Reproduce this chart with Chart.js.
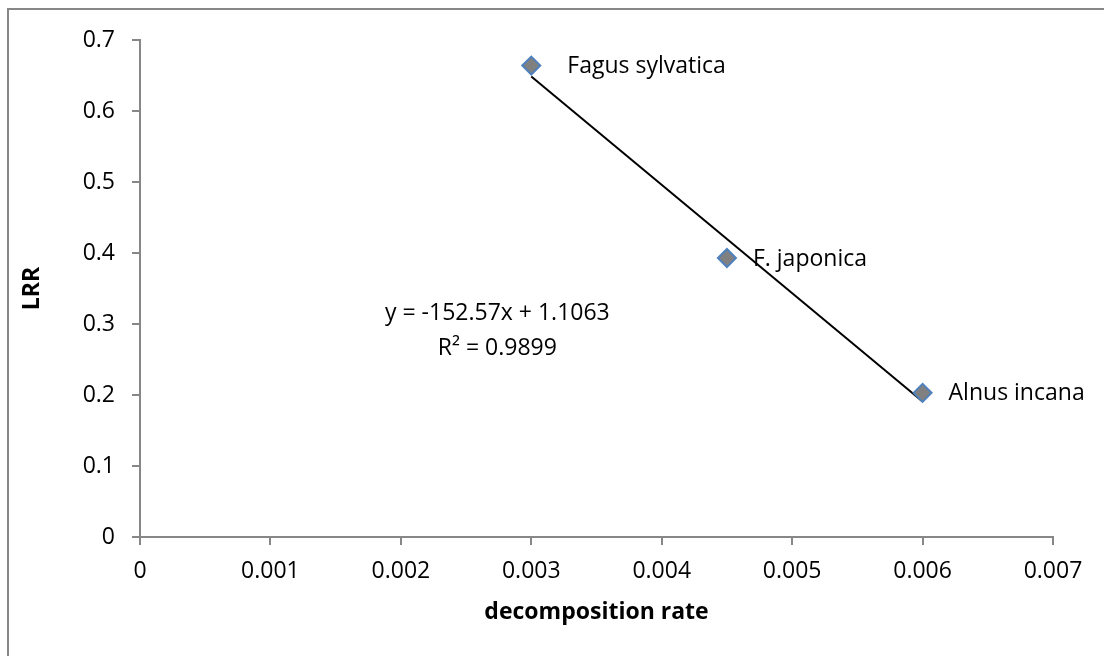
<!DOCTYPE html>
<html>
<head>
<meta charset="utf-8">
<script src="https://cdn.jsdelivr.net/npm/chart.js@4.4.1/dist/chart.umd.min.js"></script>
<style>
  html, body { margin: 0; padding: 0; background: #fff; }
  #wrap { position: relative; width: 1104px; height: 656px; overflow: hidden; }
  #frame {
    position: absolute; left: 7px; top: 8px; width: 1200px; height: 700px;
    border-top: 2px solid #878787; border-left: 2px solid #878787;
    pointer-events: none;
  }
</style>
</head>
<body>
<div id="wrap">
  <canvas id="chart" width="1104" height="656"></canvas>
  <div id="frame"></div>
</div>
<script>
// species data
const species = ['Fagus sylvatica', 'F. japonica', 'Alnus incana'];
const decompRate = [0.003, 0.0045, 0.006];
const lrr = [0.664, 0.393, 0.203];

// linear trendline end points (y = -152.57x + 1.1063)
const trendX = [0.003, 0.006];
const trendY = [0.6486, 0.1909];
const equationLines = ['y = -152.57x + 1.1063', 'R² = 0.9899'];

const xTicks = [0, 0.001, 0.002, 0.003, 0.004, 0.005, 0.006, 0.007];
const xTickLabels = ['0', '0.001', '0.002', '0.003', '0.004', '0.005', '0.006', '0.007'];
const yTicks = [0, 0.1, 0.2, 0.3, 0.4, 0.5, 0.6, 0.7];
const yTickLabels = ['0', '0.1', '0.2', '0.3', '0.4', '0.5', '0.6', '0.7'];

const FONT = '"Open Sans", "Noto Sans", sans-serif';
const AXIS_GREY = '#878787';

// label offsets to the right of each marker, px
const labelDx = [36, 26, 26];

const pointLabels = {
  id: 'pointLabels',
  afterDatasetsDraw(chart) {
    const ctx = chart.ctx;
    const meta = chart.getDatasetMeta(1);
    ctx.save();
    ctx.font = '23px ' + FONT;
    ctx.fillStyle = '#000';
    ctx.textAlign = 'left';
    ctx.textBaseline = 'middle';
    meta.data.forEach((pt, i) => {
      ctx.fillText(species[i], pt.x + labelDx[i], pt.y + 1);
    });

    // trendline equation
    const xs = chart.scales.x, ys = chart.scales.y;
    const cx = xs.getPixelForValue(0.00274);
    ctx.textAlign = 'center';
    ctx.fillText(equationLines[0], cx, ys.getPixelForValue(0.315));
    ctx.fillText(equationLines[1], cx, ys.getPixelForValue(0.265));
    ctx.restore();
  }
};

new Chart(document.getElementById('chart'), {
  type: 'scatter',
  data: {
    datasets: [
      {
        label: 'trend',
        type: 'line',
        data: trendX.map((x, i) => ({ x: x, y: trendY[i] })),
        borderColor: '#000',
        borderWidth: 2,
        pointRadius: 0,
        fill: false,
        order: 2
      },
      {
        label: 'LRR',
        data: decompRate.map((x, i) => ({ x: x, y: lrr[i] })),
        pointStyle: 'rectRot',
        pointRadius: 9,
        pointBackgroundColor: '#808080',
        pointBorderColor: '#4f81bd',
        pointBorderWidth: 2,
        order: 1
      }
    ]
  },
  options: {
    responsive: false,
    animation: false,
    layout: { padding: { left: 0, top: 40, right: 51, bottom: 0 } },
    plugins: {
      legend: { display: false },
      tooltip: { enabled: false }
    },
    scales: {
      x: {
        type: 'linear',
        min: 0,
        max: 0.007,
        afterBuildTicks: (axis) => { axis.ticks = xTicks.map(v => ({ value: v })); },
        afterFit: (axis) => { axis.height = 119; },
        grid: { drawOnChartArea: false, drawTicks: true, tickLength: 8, color: AXIS_GREY, lineWidth: 2 },
        border: { color: AXIS_GREY, width: 2 },
        ticks: {
          color: '#000',
          padding: 13,
          maxRotation: 0,
          font: { family: FONT, size: 23 },
          callback: (v, i) => xTickLabels[i]
        },
        title: {
          display: true,
          text: 'decomposition rate',
          color: '#000',
          font: { family: FONT, size: 23, weight: 'bold' },
          padding: { top: 0, bottom: 30 }
        }
      },
      y: {
        type: 'linear',
        min: 0,
        max: 0.7,
        afterBuildTicks: (axis) => { axis.ticks = yTicks.map(v => ({ value: v })); },
        afterFit: (axis) => { axis.width = 140; },
        grid: { drawOnChartArea: false, drawTicks: true, tickLength: 8, color: AXIS_GREY, lineWidth: 2 },
        border: { color: AXIS_GREY, width: 2 },
        ticks: {
          color: '#000',
          padding: 17,
          font: { family: FONT, size: 23 },
          callback: (v, i) => yTickLabels[i]
        },
        title: {
          display: true,
          text: 'LRR',
          color: '#000',
          font: { family: FONT, size: 23, weight: 'bold' },
          padding: { top: 19, bottom: 0 }
        }
      }
    }
  },
  plugins: [pointLabels]
});
</script>
</body>
</html>
